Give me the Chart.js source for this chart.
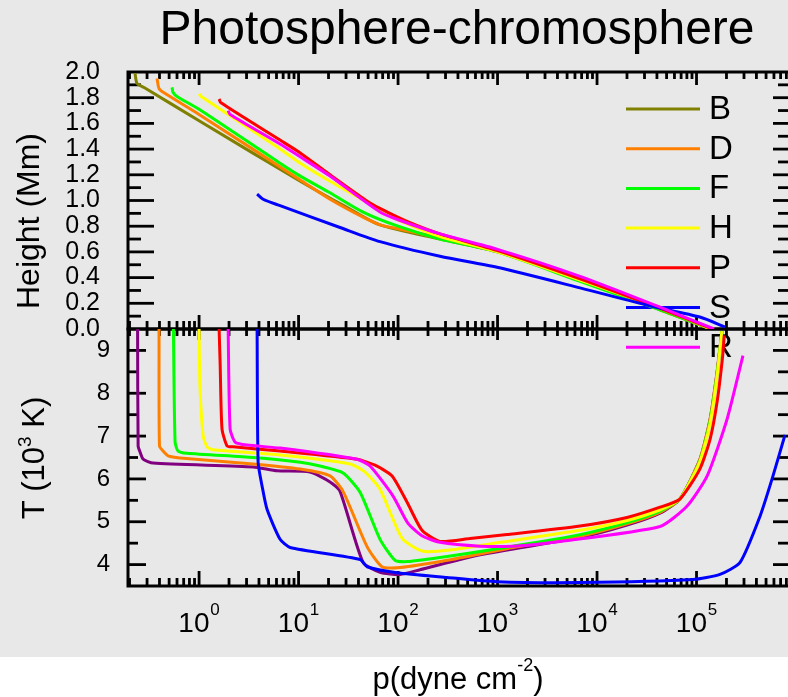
<!DOCTYPE html>
<html>
<head>
<meta charset="utf-8">
<script src="https://cdn.jsdelivr.net/npm/chart.js@4.4.1/dist/chart.umd.min.js"></script>
<style>
html, body { margin: 0; padding: 0; overflow: hidden; background: #fff; }
#wrap { width: 800px; height: 697px; position: relative; }
</style>
</head>
<body>
<div id="wrap"><canvas id="myChart"></canvas></div>
<script>
//Model names, in legend order
var groups = ['B', 'D', 'F', 'H', 'P', 'S', 'R'];
var heightColors = ['#808000', '#ff8000', '#00ff00', '#ffff00', '#ff0000', '#0000ff', '#ff00ff'];
var tempColors = ['#800080', '#ff8000', '#00ff00', '#ffff00', '#ff0000', '#0000ff', '#ff00ff'];

//Tick labels
var heightTicks = [0, 0.2, 0.4, 0.6, 0.8, 1.0, 1.2, 1.4, 1.6, 1.8, 2.0];
var tempTicks = [4, 5, 6, 7, 8, 9];
var pressureDecades = [0, 1, 2, 3, 4, 5];

//Top panel: height (Mm) against pressure (dyne cm^-2)
var pHeightB = [0.227, 0.238, 0.28, 1.0, 10.4, 30, 66, 264, 1000, 6745, 4.3e4, 1.4e5];
var heightB  = [1.99, 1.91, 1.88, 1.62, 1.15, 0.95, 0.81, 0.70, 0.60, 0.38, 0.15, 0.0];
var pHeightD = [0.378, 0.396, 0.44, 1.0, 10.4, 20.7, 44.5, 66, 100, 264, 1000, 6745, 4.3e4, 1.4e5];
var heightD  = [1.95, 1.87, 1.84, 1.67, 1.16, 1.01, 0.87, 0.81, 0.78, 0.71, 0.60, 0.38, 0.15, 0.0];
var pHeightF = [0.535, 0.548, 0.6, 1.0, 6.52, 10.4, 20.7, 44.5, 100, 264, 1000, 6745, 4.3e4, 1.4e5];
var heightF  = [1.88, 1.84, 1.81, 1.71, 1.29, 1.19, 1.06, 0.91, 0.80, 0.70, 0.60, 0.37, 0.15, 0.0];
var pHeightH = [1.0, 1.05, 6.52, 10.4, 20.7, 65.9, 100, 264, 1000, 6745, 4.3e4, 1.4e5];
var heightH  = [1.83, 1.81, 1.40, 1.29, 1.15, 0.93, 0.85, 0.72, 0.60, 0.38, 0.16, 0.0];
var pHeightP = [1.59, 1.66, 6.52, 10.4, 20.7, 52.3, 78, 130, 264, 1000, 6745, 4.3e4, 1.45e5];
var heightP  = [1.79, 1.76, 1.47, 1.37, 1.20, 0.98, 0.91, 0.83, 0.74, 0.61, 0.39, 0.16, 0.0];
var pHeightS = [3.83, 4.4, 6.52, 26.1, 65.9, 264, 988, 6745, 3.4e4, 1.08e5, 1.93e5];
var heightS  = [1.05, 1.01, 0.96, 0.79, 0.68, 0.566, 0.48, 0.32, 0.18, 0.093, 0.016];
var pHeightR = [1.96, 2.05, 6.52, 10.4, 20.7, 65.9, 100, 264, 1000, 6745, 4.3e4, 1.5e5];
var heightR  = [1.70, 1.67, 1.44, 1.34, 1.19, 0.91, 0.85, 0.74, 0.62, 0.41, 0.17, 0.0];

//Bottom panel: temperature (10^3 K) against pressure
var pTempB = [0.241, 0.244, 0.255, 0.274, 0.345, 3.49, 6.08, 13.0, 20.7, 26.1, 44.5, 65.9, 105, 166, 667, 6745, 2.0e4, 4.3e4, 6.8e4, 1.08e5, 1.37e5, 1.61e5, 1.8e5];
var tempB  = [9.5, 6.77, 6.63, 6.46, 6.37, 6.28, 6.19, 6.16, 5.93, 5.71, 4.05, 3.82, 3.77, 3.88, 4.23, 4.63, 4.92, 5.20, 5.53, 6.45, 7.4, 8.5, 9.45];
var pTempD = [0.396, 0.40, 0.435, 0.488, 0.644, 3.49, 10.4, 20.7, 28.0, 48.8, 69.0, 105, 311, 1431, 6745, 2.0e4, 4.3e4, 6.8e4, 1.08e5, 1.37e5, 1.61e5, 1.8e5];
var tempD  = [9.5, 6.77, 6.65, 6.54, 6.49, 6.35, 6.23, 6.07, 5.71, 4.42, 3.95, 3.93, 4.10, 4.40, 4.66, 4.95, 5.22, 5.53, 6.45, 7.4, 8.5, 9.45];
var pTempF = [0.552, 0.574, 0.615, 0.757, 3.49, 10.4, 16.4, 28.0, 41.5, 65.9, 93.3, 123, 311, 1431, 6745, 2.0e4, 4.3e4, 6.8e4, 1.08e5, 1.37e5, 1.61e5, 1.8e5];
var tempF  = [9.5, 6.86, 6.65, 6.60, 6.50, 6.39, 6.30, 6.14, 5.69, 4.59, 4.10, 4.07, 4.19, 4.43, 4.70, 4.98, 5.25, 5.53, 6.42, 7.35, 8.45, 9.45];
var pTempH = [1.0, 1.02, 1.10, 1.20, 1.38, 6.52, 32.9, 46.6, 65.9, 110, 178, 357, 1060, 6745, 2.0e4, 4.3e4, 6.8e4, 1.08e5, 1.37e5, 1.61e5, 1.8e5];
var tempH  = [9.5, 8.18, 7.0, 6.75, 6.68, 6.56, 6.35, 6.16, 5.76, 4.61, 4.31, 4.35, 4.52, 4.80, 5.03, 5.28, 5.53, 6.40, 7.3, 8.4, 9.45];
var pTempP = [1.59, 1.63, 1.70, 1.91, 2.20, 6.52, 38.7, 58.7, 87.1, 123, 174, 264, 529, 1245, 6745, 2.0e4, 4.3e4, 6.8e4, 1.08e5, 1.37e5, 1.61e5, 1.82e5, 1.9e5];
var tempP  = [9.5, 8.65, 7.17, 6.77, 6.75, 6.65, 6.46, 6.32, 6.07, 5.46, 4.80, 4.54, 4.61, 4.70, 4.90, 5.10, 5.34, 5.53, 6.23, 6.93, 7.80, 8.81, 9.35];
var pTempS = [3.83, 3.92, 4.30, 4.82, 6.52, 8.22, 41.5, 48.8, 97.7, 311, 988, 6745, 9.2e4, 1.72e5, 2.74e5, 4.35e5, 5.87e5, 7.75e5];
var tempS  = [9.5, 6.39, 5.83, 5.29, 4.59, 4.40, 4.12, 3.95, 3.81, 3.70, 3.60, 3.58, 3.65, 3.77, 4.05, 5.13, 6.07, 7.03];
var pTempR = [1.96, 2.05, 2.30, 3.04, 6.52, 38.7, 52.3, 89.1, 126, 178, 264, 667, 1431, 4250, 4.3e4, 8.0e4, 1.28e5, 2.03e5, 2.93e5];
var tempR  = [9.5, 7.17, 6.86, 6.79, 6.72, 6.46, 6.30, 5.60, 4.96, 4.66, 4.52, 4.43, 4.43, 4.54, 4.89, 5.36, 6.07, 7.40, 8.88];

var pHeight = [pHeightB, pHeightD, pHeightF, pHeightH, pHeightP, pHeightS, pHeightR];
var heights = [heightB, heightD, heightF, heightH, heightP, heightS, heightR];
var pTemp = [pTempB, pTempD, pTempF, pTempH, pTempP, pTempS, pTempR];
var temps = [tempB, tempD, tempF, tempH, tempP, tempS, tempR];

var FONT = '"Liberation Sans", Arial, Helvetica, sans-serif';

function pairs(xs, ys) {
  return xs.map(function (x, j) { return {x: x, y: ys[j]}; });
}

//Later models drawn on top (chart.js draws lowest order last)
var datasets = [];
groups.forEach(function (g, i) {
  datasets.push({label: g, data: pairs(pHeight[i], heights[i]), yAxisID: 'yH',
    borderColor: heightColors[i], borderWidth: 3, pointRadius: 0, fill: false,
    tension: 0.25, order: groups.length - i});
  datasets.push({label: g + ' T', data: pairs(pTemp[i], temps[i]), yAxisID: 'yT',
    borderColor: tempColors[i], borderWidth: 3, pointRadius: 0, fill: false,
    tension: 0.2, order: groups.length - i});
});

//Text with a raised part (superscripts)
function richText(c, parts, cx, baseY) {
  var total = 0;
  parts.forEach(function (p) { c.font = p.size + 'px ' + FONT; p.w = c.measureText(p.t).width; total += p.w; });
  var xx = cx - total / 2;
  parts.forEach(function (p) {
    c.font = p.size + 'px ' + FONT;
    c.fillText(p.t, xx, baseY - (p.rise || 0));
    xx += p.w;
  });
}

function tick(c, x1, y1, x2, y2) {
  c.beginPath(); c.moveTo(x1, y1); c.lineTo(x2, y2); c.stroke();
}

var framePlugin = {
  id: 'frame',
  beforeDraw: function (chart) {
    var c = chart.ctx;
    c.save();
    c.fillStyle = '#ffffff';
    c.fillRect(0, 0, chart.width, chart.height);
    c.fillStyle = '#e8e8e8';
    c.fillRect(0, 0, chart.width, 657);
    c.restore();
  },
  beforeDatasetsDraw: function (chart) {
    var c = chart.ctx, x = chart.scales.x, yH = chart.scales.yH, yT = chart.scales.yT;
    c.save();
    c.strokeStyle = '#000';
    c.lineWidth = 2.8;
    //x ticks on every horizontal axis line
    for (var k = -1; k <= 6; k++) {
      for (var m = 1; m <= 9; m++) {
        var v = m * Math.pow(10, k);
        if (v <= x.min || v >= x.max) continue;
        var px = x.getPixelForValue(v), major = (m === 1);
        tick(c, px, yH.top, px, yH.top + (major ? 13 : 7));
        tick(c, px, yH.bottom, px, yH.bottom - (major ? 14 : 8));
        tick(c, px, yT.top, px, yT.top + (major ? 11 : 7));
        tick(c, px, yT.bottom, px, yT.bottom - (major ? 15 : 8));
      }
    }
    //height ticks
    for (var i = 1; i < 20; i++) {
      var py = yH.getPixelForValue(i / 10), maj = (i % 2 === 0);
      tick(c, x.left, py, x.left + (maj ? 26 : 13), py);
      tick(c, x.right, py, x.right - (maj ? 17 : 12), py);
    }
    //temperature ticks
    for (var t = 4; t < 9.5; t += 0.5) {
      var ty = yT.getPixelForValue(t), tm = (t % 1 === 0);
      tick(c, x.left, ty, x.left + (tm ? 18 : 10), ty);
      tick(c, x.right, ty, x.right - (tm ? 17 : 12), ty);
    }
    //panel frames
    c.lineWidth = 3;
    c.strokeRect(x.left, yH.top, x.right - x.left, yH.bottom - yH.top);
    c.strokeRect(x.left, yT.top, x.right - x.left, yT.bottom - yT.top);

    //legend, from the height datasets
    c.fillStyle = '#000';
    c.textBaseline = 'middle';
    c.textAlign = 'left';
    c.font = '33px ' + FONT;
    var n = 0;
    chart.data.datasets.forEach(function (ds) {
      if (ds.yAxisID !== 'yH') return;
      var ly = 109 + n * 39.7;
      c.strokeStyle = ds.borderColor;
      c.lineWidth = 3;
      tick(c, 626, ly, 700, ly);
      c.fillText(ds.label, 709, ly + 1);
      n++;
    });
    c.restore();
  },
  afterDraw: function (chart) {
    var c = chart.ctx, x = chart.scales.x;
    c.save();
    c.fillStyle = '#000';
    c.textBaseline = 'alphabetic';
    c.textAlign = 'left';
    //title
    richText(c, [{t: 'Photosphere-chromosphere', size: 48}], 457, 44);
    //x tick labels 10^k
    pressureDecades.forEach(function (k) {
      var px = x.getPixelForValue(Math.pow(10, k));
      richText(c, [{t: '10', size: 28}, {t: ' ', size: 3}, {t: String(k), size: 17, rise: 17}], px, 632);
    });
    //x title
    richText(c, [{t: 'p(dyne cm', size: 31}, {t: '-2', size: 18, rise: 18}, {t: ')', size: 31}], 458, 689);
    //y titles
    c.save();
    c.translate(28, 221);
    c.rotate(-Math.PI / 2);
    richText(c, [{t: 'Height (Mm)', size: 32}], 0, 11);
    c.restore();
    c.save();
    c.translate(33, 458);
    c.rotate(-Math.PI / 2);
    richText(c, [{t: 'T (10', size: 31}, {t: '3', size: 19, rise: 13}, {t: ' K)', size: 31}], 0, 11);
    c.restore();
    c.restore();
  }
};

var ctx = document.getElementById('myChart');
var myChart = new Chart(ctx, {
  type: 'line',
  data: {datasets: datasets},
  plugins: [framePlugin],
  options: {
    responsive: true,
    maintainAspectRatio: false,
    devicePixelRatio: 1,
    animation: false,
    layout: {padding: {top: 72, right: 10, left: 0, bottom: 0}},
    plugins: {legend: {display: false}, tooltip: {enabled: false}},
    scales: {
      x: {
        type: 'logarithmic', min: 0.193, max: 8.7e5, position: 'bottom',
        grid: {display: false, drawTicks: false}, border: {display: false},
        ticks: {display: false},
        afterFit: function (s) { s.height = 111; }
      },
      yT: {
        type: 'linear', position: 'left', stack: 'panels', stackWeight: 1,
        min: 3.5, max: 9.5,
        grid: {display: false, drawTicks: false}, border: {display: false},
        afterBuildTicks: function (s) { s.ticks = tempTicks.map(function (v) { return {value: v}; }); },
        ticks: {autoSkip: false, padding: 18, color: '#000', font: {family: FONT, size: 24},
          callback: function (v) { return v.toFixed(0); }},
        afterFit: function (s) { s.width = 128; }
      },
      yH: {
        type: 'linear', position: 'left', stack: 'panels', stackWeight: 1,
        min: 0, max: 2,
        grid: {display: false, drawTicks: false}, border: {display: false},
        afterBuildTicks: function (s) { s.ticks = heightTicks.map(function (v) { return {value: v}; }); },
        ticks: {autoSkip: false, padding: 28, color: '#000', font: {family: FONT, size: 25},
          callback: function (v) { return v.toFixed(1); }},
        afterFit: function (s) { s.width = 128; }
      }
    }
  }
});
</script>
</body>
</html>
